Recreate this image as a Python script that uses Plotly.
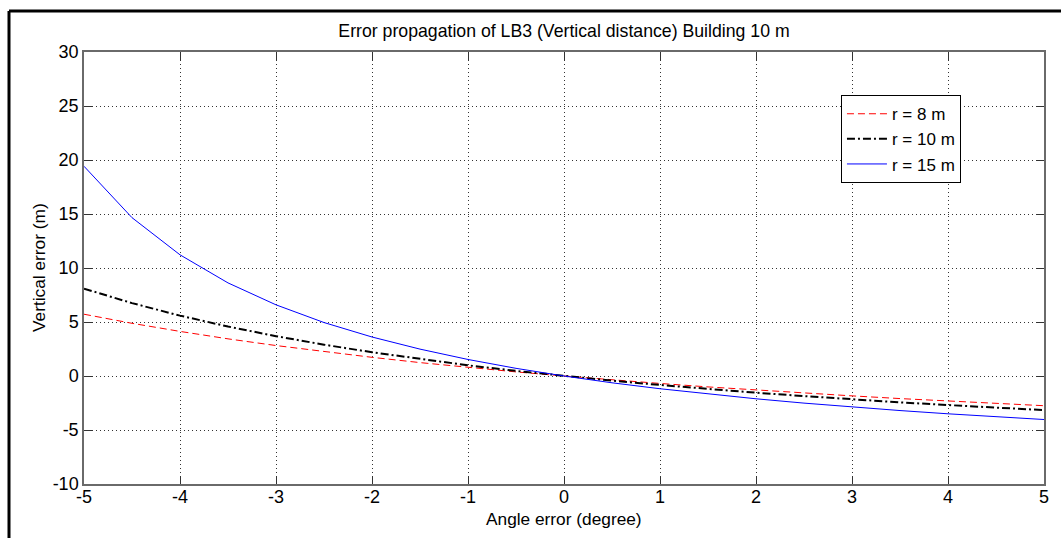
import plotly.graph_objects as go

angle_error = [-5.0, -4.5, -4.0, -3.5, -3.0, -2.5, -2.0, -1.5, -1.0, -0.5, 0.0,
               0.5, 1.0, 1.5, 2.0, 2.5, 3.0, 3.5, 4.0, 4.5, 5.0]
err_r8 = [5.72, 4.88, 4.13, 3.44, 2.82, 2.25, 1.73, 1.24, 0.80, 0.38, 0.0,
          -0.36, -0.69, -1.01, -1.30, -1.58, -1.84, -2.09, -2.32, -2.54, -2.75]
err_r10 = [8.09, 6.75, 5.59, 4.58, 3.69, 2.90, 2.20, 1.57, 0.99, 0.47, 0.0,
           -0.43, -0.83, -1.20, -1.55, -1.86, -2.16, -2.44, -2.69, -2.94, -3.16]
err_r15 = [19.42, 14.66, 11.22, 8.62, 6.59, 4.95, 3.61, 2.49, 1.53, 0.71, 0.0,
           -0.63, -1.18, -1.67, -2.11, -2.51, -2.87, -3.20, -3.50, -3.78, -4.03]
series_names = ["r = 8 m", "r = 10 m", "r = 15 m"]
x_ticks = [-5, -4, -3, -2, -1, 0, 1, 2, 3, 4, 5]
y_ticks = [-10, -5, 0, 5, 10, 15, 20, 25, 30]

FONT = "Liberation Sans, Arial, Helvetica, sans-serif"

fig = go.Figure()
fig.add_trace(go.Scatter(x=angle_error, y=err_r8, mode="lines", name=series_names[0],
                         line=dict(color="#ff0000", width=1, dash="7px,4px")))
fig.add_trace(go.Scatter(x=angle_error, y=err_r10, mode="lines", name=series_names[1],
                         line=dict(color="#000000", width=2, dash="8px,3px,2px,3px")))
fig.add_trace(go.Scatter(x=angle_error, y=err_r15, mode="lines", name=series_names[2],
                         line=dict(color="#0000ff", width=1)))

axis_common = dict(
    showgrid=True, gridcolor="#333333", griddash="1px,3px", gridwidth=1,
    zeroline=False, showline=True, linecolor="#6a6a6a", linewidth=1.5,
    mirror="ticks", ticks="inside", ticklen=8, tickcolor="#333333", tickwidth=1,
    tickfont=dict(family=FONT, size=18, color="#000000"),
)

fig.update_xaxes(range=[-5, 5], tickvals=x_ticks, ticktext=[str(v) for v in x_ticks],
                 ticklabelstandoff=-4, **axis_common)
fig.update_yaxes(range=[-10, 30], tickvals=y_ticks, ticktext=[str(v) for v in y_ticks],
                 **axis_common)

fig.update_layout(
    width=1061, height=538,
    margin=dict(l=84, r=17, t=52, b=54, autoexpand=False),
    paper_bgcolor="#ffffff", plot_bgcolor="#ffffff",
    font=dict(family=FONT, size=18, color="#000000"),
    title=dict(text="Error propagation of LB3 (Vertical distance) Building 10 m",
               x=0.5, xref="paper", y=1 - 30.5 / 538, yref="container",
               xanchor="center", yanchor="middle",
               font=dict(family=FONT, size=17.7, color="#000000")),
    legend=dict(x=0.7885, y=0.9, xanchor="left", yanchor="top",
                bgcolor="#ffffff", bordercolor="#000000", borderwidth=1,
                font=dict(family=FONT, size=17, color="#000000"),
                itemwidth=40, tracegroupgap=0),
    showlegend=True,
    annotations=[
        dict(text="Angle error (degree)", x=0.5, y=(484 - 519) / 432,
             xref="paper", yref="paper", xanchor="center", yanchor="middle",
             showarrow=False, font=dict(family=FONT, size=17.3, color="#000000")),
        dict(text="Vertical error (m)", x=(39 - 84) / 960, y=0.5,
             xref="paper", yref="paper", xanchor="center", yanchor="middle",
             textangle=-90, showarrow=False,
             font=dict(family=FONT, size=17.3, color="#000000")),
    ],
    shapes=[
        dict(type="line", xref="paper", yref="paper",
             x0=(9 - 84) / 960, x1=(1070 - 84) / 960,
             y0=(484 - 11) / 432, y1=(484 - 11) / 432,
             line=dict(color="#000000", width=3)),
        dict(type="line", xref="paper", yref="paper",
             x0=(9 - 84) / 960, x1=(9 - 84) / 960,
             y0=(484 - 11) / 432, y1=(484 - 545) / 432,
             line=dict(color="#000000", width=3)),
    ],
)

fig.write_html("out.html", config={"displayModeBar": False},
               post_script="document.body.style.margin='0';document.body.style.padding='0';document.body.style.overflow='hidden';")
